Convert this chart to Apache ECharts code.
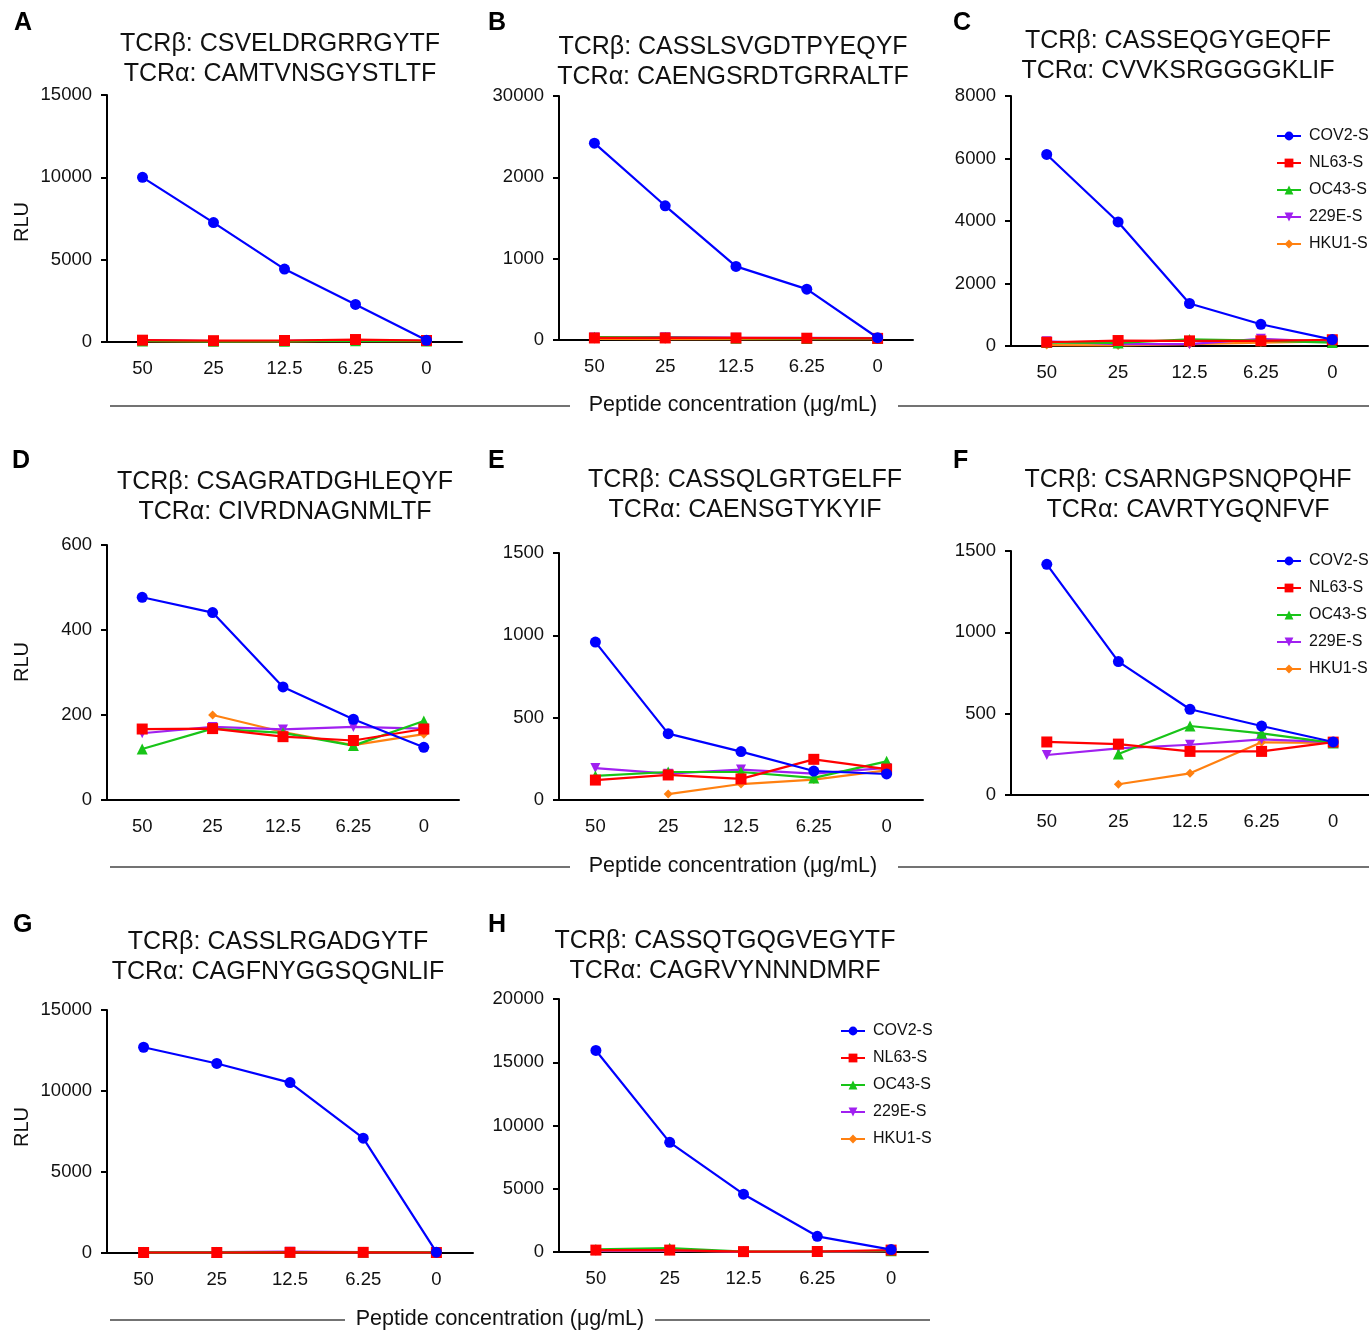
<!DOCTYPE html>
<html>
<head>
<meta charset="utf-8">
<script src="https://cdn.jsdelivr.net/npm/echarts@6/dist/echarts.min.js"></script>
<style>
html,body{margin:0;padding:0;background:#fff;}
#chart{width:1369px;height:1330px;}
</style>
</head>
<body>
<div id="chart"></div>
<script>
// ---------- DATA ----------
const categories = ['50', '25', '12.5', '6.25', '0'];
const seriesNames = ['COV2-S', 'NL63-S', 'OC43-S', '229E-S', 'HKU1-S'];
const panelLetters = ['A', 'B', 'C', 'D', 'E', 'F', 'G', 'H'];
const titlesBeta = ['TCRβ: CSVELDRGRRGYTF', 'TCRβ: CASSLSVGDTPYEQYF', 'TCRβ: CASSEQGYGEQFF',
  'TCRβ: CSAGRATDGHLEQYF', 'TCRβ: CASSQLGRTGELFF', 'TCRβ: CSARNGPSNQPQHF',
  'TCRβ: CASSLRGADGYTF', 'TCRβ: CASSQTGQGVEGYTF'];
const titlesAlpha = ['TCRα: CAMTVNSGYSTLTF', 'TCRα: CAENGSRDTGRRALTF', 'TCRα: CVVKSRGGGGKLIF',
  'TCRα: CIVRDNAGNMLTF', 'TCRα: CAENSGTYKYIF', 'TCRα: CAVRTYGQNFVF',
  'TCRα: CAGFNYGGSQGNLIF', 'TCRα: CAGRVYNNNDMRF'];
const yAxisLabel = 'RLU';
const xAxisLabel = 'Peptide concentration (μg/mL)';
const legendNames = ['COV2-S', 'NL63-S', 'OC43-S', '229E-S', 'HKU1-S'];

// y-axis scales per panel: max and step
const yMax = [15000, 3000, 8000, 600, 1500, 1500, 15000, 20000];
const yStep = [5000, 1000, 2000, 200, 500, 500, 5000, 5000];
// Panel B tick labels as printed in the figure
const bTickLabels = ['0', '1000', '2000', '30000'];

// Panel A
const A_cov2 = [10000, 7250, 4430, 2280, 100];
const A_nl63 = [110, 80, 90, 150, 90];
const A_oc43 = [60, 40, 50, 80, 60];
const A_229e = [120, 60, 70, 110, 80];
const A_hku1 = [50, 40, 40, 60, 50];
// Panel B
const B_cov2 = [2420, 1650, 905, 625, 28];
const B_nl63 = [25, 25, 25, 22, 20];
const B_oc43 = [35, 30, 22, 18, 18];
const B_229e = [30, 35, 28, 25, 22];
const B_hku1 = [12, 10, 12, 10, 10];
// Panel C
const C_cov2 = [6130, 3970, 1360, 695, 205];
const C_nl63 = [120, 175, 165, 165, 200];
const C_oc43 = [110, 100, 210, 170, 110];
const C_229e = [150, 60, 60, 230, 130];
const C_hku1 = [30, 20, 60, 110, 150];
// Panel D
const D_cov2 = [477, 441, 266, 190, 124];
const D_nl63 = [167, 168, 149, 140, 167];
const D_oc43 = [120, 168, 158, 128, 186];
const D_229e = [157, 172, 166, 172, 168];
const D_hku1 = [null, 200, 160, 129, 155];
// Panel E
const E_cov2 = [959, 403, 294, 176, 158];
const E_nl63 = [121, 152, 128, 247, 188];
const E_oc43 = [146, 170, 170, 134, 235];
const E_229e = [194, 160, 185, 160, 195];
const E_hku1 = [null, 36, 97, 124, 180];
// Panel F
const F_cov2 = [1418, 820, 527, 424, 326];
const F_nl63 = [326, 313, 268, 268, 325];
const F_oc43 = [null, 252, 424, 379, 320];
const F_229e = [246, 287, 309, 342, 325];
const F_hku1 = [null, 66, 133, 324, 320];
// Panel G
const G_cov2 = [12700, 11700, 10520, 7090, 50];
const G_nl63 = [30, 30, 40, 40, 30];
const G_oc43 = [40, 40, 50, 50, 40];
const G_229e = [50, 50, 80, 60, 40];
const G_hku1 = [30, 30, 40, 40, 30];
// Panel H
const H_cov2 = [15930, 8670, 4570, 1240, 190];
const H_nl63 = [150, 150, 30, 40, 150];
const H_oc43 = [200, 300, 40, 40, 100];
const H_229e = [100, 120, 20, 30, 80];
const H_hku1 = [80, 100, 20, 20, 60];

const panelData = [
  [A_cov2, A_nl63, A_oc43, A_229e, A_hku1],
  [B_cov2, B_nl63, B_oc43, B_229e, B_hku1],
  [C_cov2, C_nl63, C_oc43, C_229e, C_hku1],
  [D_cov2, D_nl63, D_oc43, D_229e, D_hku1],
  [E_cov2, E_nl63, E_oc43, E_229e, E_hku1],
  [F_cov2, F_nl63, F_oc43, F_229e, F_hku1],
  [G_cov2, G_nl63, G_oc43, G_229e, G_hku1],
  [H_cov2, H_nl63, H_oc43, H_229e, H_hku1]
];

// ---------- STYLE / LAYOUT ----------
const FONT = '"Liberation Sans", Arial, Helvetica, sans-serif';
const colors = ['#0000FF', '#FF0000', '#18C418', '#A020F0', '#FF8010'];
const symbols = ['circle', 'rect', 'triangle', 'path://M0,0 L10,0 L5,9 Z', 'diamond'];
const symbolSizes = [11, 11, 11, 10, 9];

const grids = [
  {left: 107, top: 95, width: 355, height: 247},
  {left: 559, top: 96, width: 354, height: 244},
  {left: 1011, top: 96, width: 357, height: 250},
  {left: 107, top: 545, width: 352, height: 255},
  {left: 559, top: 553, width: 364, height: 247},
  {left: 1011, top: 551, width: 362, height: 244},
  {left: 107, top: 1010, width: 366, height: 243},
  {left: 559, top: 999, width: 369, height: 253}
];
const titlePos = [
  [280, 44], [733, 47], [1178, 41],
  [285, 482], [745, 480], [1188, 480],
  [278, 942], [725, 941]
];
const letterPos = [[14, 11], [488, 11], [953, 11], [12, 449], [488, 449], [953, 449], [13, 913], [488, 913]];

const option = {
  animation: false,
  backgroundColor: '#fff',
  textStyle: {fontFamily: FONT},
  grid: grids.map(g => Object.assign({containLabel: false}, g)),
  xAxis: grids.map((g, i) => ({
    type: 'category', gridIndex: i, data: categories, boundaryGap: true,
    axisLine: {lineStyle: {color: '#000', width: 2}},
    axisTick: {alignWithLabel: true, length: 6, lineStyle: {color: '#000', width: 2}},
    axisLabel: {color: '#111', fontSize: 18.5, margin: 17, fontFamily: FONT},
    splitLine: {show: false}
  })),
  yAxis: grids.map((g, i) => ({
    type: 'value', gridIndex: i, min: 0, max: yMax[i], interval: yStep[i],
    axisLine: {show: true, lineStyle: {color: '#000', width: 2}},
    axisTick: {show: true, length: 6, lineStyle: {color: '#000', width: 2}},
    axisLabel: {color: '#111', fontSize: 18.5, margin: 15, fontFamily: FONT,
      formatter: i === 1 ? (v => bTickLabels[Math.round(v / 1000)]) : (v => String(v))},
    splitLine: {show: false}
  })),
  legend: [
    {left: 1271, top: 123},
    {left: 1271, top: 548},
    {left: 835, top: 1018}
  ].map(p => ({
    left: p.left, top: p.top, orient: 'vertical', data: legendNames,
    itemWidth: 24, itemHeight: 11, itemGap: 11, selectedMode: false,
    textStyle: {fontSize: 16, color: '#111', fontFamily: FONT, padding: [0, 0, 0, 3]}
  })),
  series: [],
  graphic: []
};

// series: draw others first, COV2 on top
const drawOrder = [4, 3, 2, 1, 0];
panelData.forEach((pd, pi) => {
  drawOrder.forEach(si => {
    option.series.push({
      name: seriesNames[si], type: 'line', xAxisIndex: pi, yAxisIndex: pi,
      data: pd[si], connectNulls: false,
      symbol: symbols[si], symbolSize: symbolSizes[si],
      lineStyle: {color: colors[si], width: 2.2},
      itemStyle: {color: colors[si]},
      z: 2 + (4 - si)
    });
  });
});

// titles, panel letters
titlePos.forEach((p, i) => {
  option.graphic.push({type: 'text', x: p[0], y: p[1], style: {
    text: titlesBeta[i], fontSize: 25, fontFamily: FONT, fill: '#111',
    textAlign: 'center', textVerticalAlign: 'middle'}});
  option.graphic.push({type: 'text', x: p[0], y: p[1] + 30, style: {
    text: titlesAlpha[i], fontSize: 25, fontFamily: FONT, fill: '#111',
    textAlign: 'center', textVerticalAlign: 'middle'}});
});
letterPos.forEach((p, i) => {
  option.graphic.push({type: 'text', x: p[0], y: p[1], style: {
    text: panelLetters[i], fontSize: 25, fontWeight: 'bold', fontFamily: FONT, fill: '#000'}});
});
// RLU labels
[222, 662, 1127].forEach(y => {
  option.graphic.push({type: 'text', x: 22, y: y, rotation: Math.PI / 2, style: {
    text: yAxisLabel, fontSize: 20, fontFamily: FONT, fill: '#111',
    textAlign: 'center', textVerticalAlign: 'middle'}});
});
// x-axis shared labels with lines
[
  {y: 405, cx: 733, l1: [110, 570], l2: [898, 1369]},
  {y: 866, cx: 733, l1: [110, 570], l2: [898, 1369]},
  {y: 1319, cx: 500, l1: [110, 345], l2: [655, 930]}
].forEach(r => {
  option.graphic.push({type: 'text', x: r.cx, y: r.y, style: {
    text: xAxisLabel, fontSize: 21.5, fontFamily: FONT, fill: '#111',
    textAlign: 'center', textVerticalAlign: 'middle'}});
  option.graphic.push({type: 'line', shape: {x1: r.l1[0], y1: r.y + 1, x2: r.l1[1], y2: r.y + 1},
    style: {stroke: '#444', lineWidth: 1.5}});
  option.graphic.push({type: 'line', shape: {x1: r.l2[0], y1: r.y + 1, x2: r.l2[1], y2: r.y + 1},
    style: {stroke: '#444', lineWidth: 1.5}});
});

const chart = echarts.init(document.getElementById('chart'), null, {renderer: 'canvas'});
chart.setOption(option);
</script>
</body>
</html>
